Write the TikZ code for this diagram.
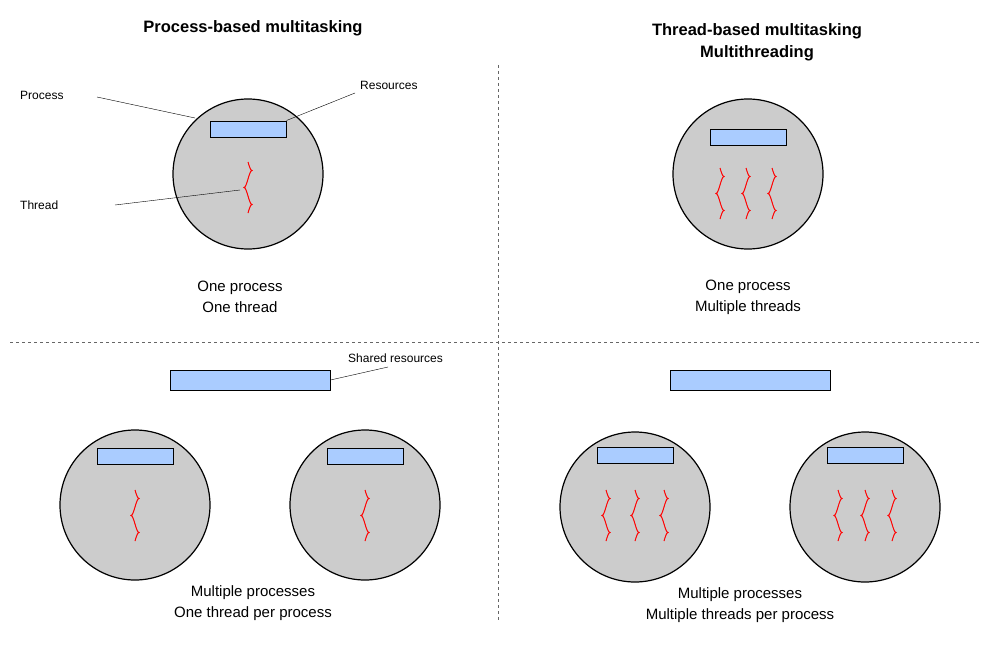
\documentclass[tikz,border=0pt]{standalone}
\usepackage{fontspec}
\setmainfont{Liberation Sans}
\begin{document}
\begin{tikzpicture}[x=1pt,y=-1pt,
  proc/.style={draw=black,line width=1.2pt,fill=black!20},
  res/.style={draw=black,line width=1pt,fill={rgb,255:red,170;green,204;blue,255}},
  thr/.style={draw=red,line width=1pt},
  lbl/.style={font=\fontsize{12}{14}\selectfont,anchor=west,inner sep=0},
  captxt/.style={font=\fontsize{15}{21}\selectfont,align=center},
  ttl/.style={font=\bfseries\fontsize{16.5}{22}\selectfont,align=center},
  sep/.style={draw=black!60,dashed,line width=0.7pt}]
\useasboundingbox (0,0) rectangle (1000,650);
\newcommand{\wave}[2]{\draw[thr] (#1,#2) sin ++(4,8.5) cos ++(-4,8.5) sin ++(-4,8.5) cos ++(4,8.5) sin ++(4,8.5) cos ++(-4,8.5);}
% separators
\draw[sep] (498,65) -- (498,620);
\draw[sep] (10,342) -- (980,342);
% titles
\node[ttl] (t1) at (253,28) {Process-based multitasking};
\node[ttl] (t2) at (757,42) {Thread-based multitasking\\Multithreading};
% TL
\node[proc,circle,minimum size=150] (c1) at (248,174) {};
\node[res,minimum width=76,minimum height=16,inner sep=0] (r1) at (248,129) {};
\wave{248}{162}
\node[lbl] (lp) at (20,95) {Process};
\node[lbl] (lr) at (360,85) {Resources};
\node[lbl] (lt) at (20,205) {Thread};
\coordinate (pe) at (195,118);
\coordinate (te) at (240,190);
\coordinate (ps) at (97,97);
\coordinate (rs) at (355,93);
\coordinate (ts) at (115,205);
\draw[thin] (ps) -- (pe);
\draw[thin] (rs) -- (r1.north east);
\draw[thin] (ts) -- (te);
\node[captxt] (k1) at (240,297) {One process\\One thread};
% TR
\node[proc,circle,minimum size=150] (c2) at (748,174) {};
\node[res,minimum width=76,minimum height=16,inner sep=0] (r2) at (748,137) {};
\wave{720}{168}\wave{746}{168}\wave{772}{168}
\node[captxt] (k2) at (748,297) {One process\\Multiple threads};
% BL
\node[res,minimum width=160,minimum height=20,inner sep=0] (s1) at (250,380) {};
\node[lbl] (ls) at (348,358) {Shared resources};
\coordinate (ss) at (388,367);
\draw[thin] (ss) -- (s1.east);
\node[proc,circle,minimum size=150] (c3) at (135,505) {};
\node[res,minimum width=76,minimum height=16,inner sep=0] (r3) at (135,456) {};
\wave{135}{490}
\node[proc,circle,minimum size=150] (c4) at (365,505) {};
\node[res,minimum width=76,minimum height=16,inner sep=0] (r4) at (365,456) {};
\wave{365}{490}
\node[captxt] (k3) at (253,603) {Multiple processes\\One thread per process};
% BR
\node[res,minimum width=160,minimum height=20,inner sep=0] (s2) at (750,380) {};
\node[proc,circle,minimum size=150] (c5) at (635,507) {};
\node[res,minimum width=76,minimum height=16,inner sep=0] (r5) at (635,455) {};
\wave{606}{490}\wave{635}{490}\wave{664}{490}
\node[proc,circle,minimum size=150] (c6) at (865,507) {};
\node[res,minimum width=76,minimum height=16,inner sep=0] (r6) at (865,455) {};
\wave{838}{490}\wave{865}{490}\wave{892}{490}
\node[captxt] (k4) at (740,605) {Multiple processes\\Multiple threads per process};
\end{tikzpicture}
\end{document}
